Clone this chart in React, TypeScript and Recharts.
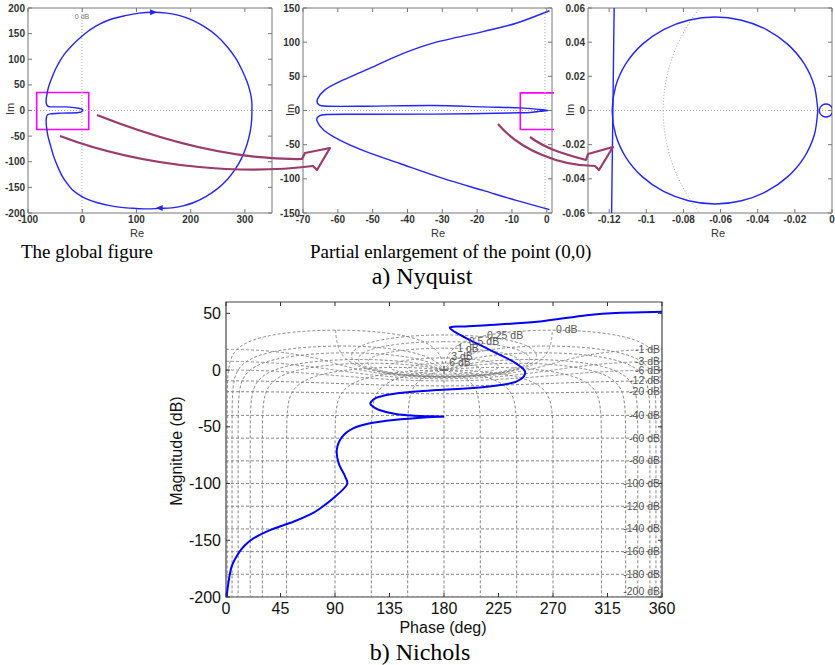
import React from "react";
import { ComposedChart, Line, Scatter, XAxis, YAxis, ReferenceLine, ReferenceArea } from "recharts";

type P = { x: number; y: number };
const pts = (a: number[][]): P[] => a.map(([x, y]) => ({ x, y }));

// ---------- a) Nyquist, the global figure (Re, Im)
const globalLoop = pts([
  [1.5, 0], [0.6, 1.9], [-6.7, 4.5], [-31, 7], [-58.6, 7.1], [-64.5, 9.5], [-66.2, 14], [-66.5, 21.4],
  [-64.5, 35], [-61.7, 47.4], [-56, 64], [-49.5, 80], [-41, 97], [-31, 112.5], [-17, 129], [-0.6, 144.8],
  [14, 157], [30, 167.6], [53, 178], [79, 185], [105, 190], [131, 191.6], [156, 190], [180, 185],
  [204, 176], [226, 163], [248, 146], [267, 125], [283, 102], [295, 78], [304, 56], [310, 35],
  [312.8, 17], [313, 0], [312.5, -18], [310, -40], [304, -66], [294, -93], [282, -115], [268, -134],
  [249, -153], [228, -168], [207, -179], [186, -186], [165, -190], [143, -191], [120, -192], [97, -191],
  [72, -189], [48.5, -185], [28, -180], [8.8, -173], [-5, -165], [-18.7, -154], [-28, -142], [-37, -128],
  [-45, -110], [-52.5, -90], [-58, -70], [-63, -51], [-65.5, -35], [-66.5, -25], [-66.2, -15], [-64.5, -9],
  [-58.6, -6.5], [-37, -5.2], [-6.7, -3.9], [1.5, 0],
]);
const globalArrowHeads = [
  { x: 130.6, y: 191.6, dir: 1 },
  { x: 142.9, y: -190, dir: -1 },
];
const globalBox = [-84, 12, -37, 35];
const globalXTicks = [-100, 0, 100, 200, 300];
const globalYTicks = [-200, -150, -100, -50, 0, 50, 100, 150, 200];

// ---------- partial enlargement
const zoomCurve = pts([
  [0.8, 146], [-8.8, 127.7], [-18.3, 115.5], [-32.7, 98.6], [-42.2, 81.5], [-51.7, 59.7], [-59.3, 42.7],
  [-63.6, 30.6], [-65.8, 17], [-65.5, 8.7], [-63.1, 6.3], [-51.7, 6.3], [-32.7, 7.3], [-18.3, 5.3],
  [-7.7, 3.9], [-2, 1.5], [0.4, 0], [-2, -1.2], [-7.7, -3.4], [-32.7, -5.3], [-51.7, -5.5], [-63.1, -5.8],
  [-65.5, -8.7], [-66, -15], [-64, -29], [-59.3, -43.7], [-51.7, -60.6], [-42.2, -77.6], [-29.8, -99.4],
  [-18.3, -117], [-8.8, -131.6], [0.8, -145],
]);
const zoomBox = [-7.6, 2.4, -27.7, 25.8];
const zoomXTicks = [-70, -60, -50, -40, -30, -20, -10, 0];
const zoomYTicks = [-150, -100, -50, 0, 50, 100, 150];

// ---------- close-up at the origin
const nearCross = pts([[-0.1172, 0.07], [-0.118, 0], [-0.1188, -0.07]]);
const nearLoop = pts([
  [-0.0076, 0], [-0.0095, 0.0142], [-0.015, 0.0274], [-0.0238, 0.0387], [-0.0353, 0.0474], [-0.0487, 0.0528],
  [-0.063, 0.0547], [-0.0773, 0.0528], [-0.0907, 0.0474], [-0.1022, 0.0387], [-0.111, 0.0274], [-0.1165, 0.0142],
  [-0.1184, 0], [-0.1165, -0.0142], [-0.111, -0.0274], [-0.1022, -0.0387], [-0.0907, -0.0474], [-0.0773, -0.0528],
  [-0.063, -0.0547], [-0.0487, -0.0528], [-0.0353, -0.0474], [-0.0238, -0.0387], [-0.015, -0.0274],
  [-0.0095, -0.0142], [-0.0076, 0],
]);
const nearSmallLoop = pts([
  [0.0004, 0], [-0.0001, 0.0019], [-0.0014, 0.0033], [-0.0032, 0.0038], [-0.005, 0.0033], [-0.0063, 0.0019],
  [-0.0068, 0], [-0.0063, -0.0019], [-0.005, -0.0033], [-0.0032, -0.0038], [-0.0014, -0.0033],
  [-0.0001, -0.0019], [0.0004, 0],
]);
const nearXTicks = [-0.12, -0.1, -0.08, -0.06, -0.04, -0.02, 0];
const nearYTicks = [-0.06, -0.04, -0.02, 0, 0.02, 0.04, 0.06];
const nearGridDb = -20;

// ---------- b) Nichols
const nicholsPhase = [0.5, 1.9, 4.7, 10.2, 16, 22.6, 36.3, 55.6, 70, 77.6, 88.6, 99.6, 98.4, 93, 91.5, 95.7, 105, 119, 138.4, 166,
  179, 155, 140, 126, 120, 119.5, 124, 135, 150, 174, 210, 235, 244, 247, 245.5, 240, 235, 225, 215.7, 199,
  190, 185.3, 186, 196, 215.7, 257, 298, 326, 360];
const nicholsMag = [-200, -188, -173, -161.6, -154, -148.3, -141, -133.7, -127, -122, -113, -101.4, -94, -82, -70, -59, -51.3, -46.9, -44, -41.5,
  -41, -40.2, -38.8, -35, -31, -28.5, -24.5, -21.5, -19.5, -17.6, -15.3, -11.7, -7.5, -3, 1, 5.5, 8.8, 14, 19, 27.8,
  33, 36.6, 38, 38.5, 39.6, 42.5, 48.4, 50.5, 51.3];
const nicholsXTicks = [0, 45, 90, 135, 180, 225, 270, 315, 360];
const nicholsYTicks = [-200, -150, -100, -50, 0, 50];

// closed-loop levels of the Nichols grid
const magLevels = [6, 3, 1, 0.5, 0.25, 0, -1, -3, -6, -12, -20, -40, -60, -80, -100, -120, -140, -160, -180, -200];
const phaseLevels = [1, 5, 10, 20, 30, 50, 90, 120, 150, 180];

const innerLabelText = ["0 dB", "0.25 dB", "0.5 dB", "1 dB", "3 dB", "6 dB"];
const innerLabelPhase = [281.3, 230.4, 213, 199.8, 194.9, 193.2];
const innerLabelMag = [35.9, 30.8, 25.6, 19.7, 12.6, 7];
const edgeLabelText = ["-1 dB", "-3 dB", "-6 dB", "-12 dB", "-20 dB", "-40 dB", "-60 dB", "-80 dB", "-100 dB",
  "-120 dB", "-140 dB", "-160 dB", "-180 dB", "-200 dB"];
const edgeLabelMag = [18.5, 8.2, 0, -8.8, -18.2, -39.6, -59.6, -79.2, -99.2, -119.7, -139, -159.3, -179.6, -194.3];

// ---------- grid construction (closed loop T -> open loop G = T / (1 - T))
const RAD = Math.PI / 180;
function openLoop(M: number, aDeg: number) {
  const tr = M * Math.cos(aDeg * RAD);
  const ti = M * Math.sin(aDeg * RAD);
  const dr = 1 - tr;
  const di = -ti;
  const den = dr * dr + di * di;
  return { re: (tr * dr + ti * di) / den, im: (ti * dr - tr * di) / den };
}

function magContour(mdb: number): P[] {
  const M = Math.pow(10, mdb / 20);
  const n = Math.abs(mdb) <= 6 ? 400 : 40;
  const tmin = mdb === 0 ? Math.cbrt(1 / 180) : 1e-3;
  const ts: number[] = [];
  for (let k = 0; k <= n; k++) ts.push(tmin + ((1 - tmin) * k) / n);
  const alphas = [...ts.map((t) => 180 * t * t * t), ...ts.slice().reverse().map((t) => -180 * t * t * t)];
  return alphas.map((a) => {
    const g = openLoop(M, a);
    return { x: ((Math.atan2(g.im, g.re) / RAD) + 360) % 360, y: 20 * Math.log10(Math.hypot(g.re, g.im)) };
  });
}

function phaseContour(theta: number, mirror: boolean): P[] {
  if (theta === 180) return [{ x: 180, y: -210 }, { x: 180, y: 0 }];
  const s = Math.sin(theta * RAD);
  const ds: number[] = [];
  for (let e = -12; e < 0; e += 0.25) ds.push(Math.pow(10, e));
  for (let d = 1; d <= 180 - theta + 1e-9; d += 1) ds.push(d);
  return ds.map((d) => {
    const ph = theta + d;
    const mag = 20 * Math.log10(Math.sin(d * RAD) / s);
    return { x: mirror ? 360 - ph : ph, y: Math.max(mag, -210) };
  });
}

const nicholsGrid: P[][] = [
  ...magLevels.map(magContour),
  ...phaseLevels.map((t) => phaseContour(t, false)),
  ...phaseLevels.filter((t) => t !== 180).map((t) => phaseContour(t, true)),
];
const nearGridCircle: P[] = [];
for (let a = -180; a <= 180; a += 3) {
  const g = openLoop(Math.pow(10, nearGridDb / 20), a);
  nearGridCircle.push({ x: g.re, y: g.im });
}

const nicholsCurve = nicholsPhase.map((x, i) => ({ x, y: nicholsMag[i] }));
const innerLabels = innerLabelText.map((label, i) => ({ x: innerLabelPhase[i], y: innerLabelMag[i], label }));
const edgeLabels = edgeLabelText.map((label, i) => ({ x: 358.4, y: edgeLabelMag[i], label }));

// smooth curve through the read points (Catmull-Rom), works for loops too
function smooth(context: any) {
  let q: number[][] = [];
  return {
    areaStart() {},
    areaEnd() {},
    lineStart() { q = []; },
    point(x: number, y: number) { q.push([x, y]); },
    lineEnd() {
      if (!q.length) return;
      context.moveTo(q[0][0], q[0][1]);
      for (let i = 0; i < q.length - 1; i++) {
        const p0 = q[Math.max(i - 1, 0)];
        const p1 = q[i];
        const p2 = q[i + 1];
        const p3 = q[Math.min(i + 2, q.length - 1)];
        context.bezierCurveTo(
          p1[0] + (p2[0] - p0[0]) / 6, p1[1] + (p2[1] - p0[1]) / 6,
          p2[0] - (p3[0] - p1[0]) / 6, p2[1] - (p3[1] - p1[1]) / 6,
          p2[0], p2[1],
        );
      }
    },
  };
}

// ---------- styles
const BLUE = "#2424ff";
const SANS = "'Liberation Sans', Arial, Helvetica, sans-serif";
const SERIF = "'Liberation Serif', 'Times New Roman', serif";
const nyqTick = { fontSize: 10, fontFamily: SANS, fontWeight: 700, fill: "#333" };
const nicTick = { fontSize: 16, fontFamily: SANS, fill: "#111" };

function innerTicks(id: string, xt: number[], yt: number[], xd: number[], yd: number[], pw: number, ph: number, color: string) {
  const dy = ((yd[1] - yd[0]) * 4) / ph;
  const dx = ((xd[1] - xd[0]) * 4) / pw;
  const out: React.ReactElement[] = [];
  xt.forEach((t, i) => {
    out.push(<ReferenceLine key={`${id}xb${i}`} segment={[{ x: t, y: yd[0] }, { x: t, y: yd[0] + dy }]} stroke={color} ifOverflow="visible" />);
    out.push(<ReferenceLine key={`${id}xt${i}`} segment={[{ x: t, y: yd[1] }, { x: t, y: yd[1] - dy }]} stroke={color} ifOverflow="visible" />);
  });
  yt.forEach((t, i) => {
    out.push(<ReferenceLine key={`${id}yl${i}`} segment={[{ x: xd[0], y: t }, { x: xd[0] + dx, y: t }]} stroke={color} ifOverflow="visible" />);
    out.push(<ReferenceLine key={`${id}yr${i}`} segment={[{ x: xd[1], y: t }, { x: xd[1] - dx, y: t }]} stroke={color} ifOverflow="visible" />);
  });
  return out;
}

const arrowHead = (p: any) => {
  const { cx, cy, payload } = p;
  const d = payload.dir;
  return <path d={`M${cx + 4 * d},${cy} L${cx - 3 * d},${cy - 3} L${cx - 3 * d},${cy + 3} Z`} fill={BLUE} />;
};
const textShape = (anchor: "start" | "middle" | "end") => (p: any) => (
  <text x={p.cx} y={p.cy} textAnchor={anchor} dominantBaseline="central" fontSize={10.5} fontFamily={SANS} fill="#555">
    {p.payload.label}
  </text>
);
const plusShape = (p: any) => (
  <path d={`M${p.cx - 4},${p.cy} H${p.cx + 4} M${p.cx},${p.cy - 4} V${p.cy + 4}`} stroke="#666" strokeWidth={1} />
);

const gDom = [-100, 350];
const gYDom = [-200, 200];
const zDom = [-70, 1.5];
const zYDom = [-150, 150];
const nDom = [-0.1314, 0];
const nYDom = [-0.06, 0.06];
const cDom = [0, 360];
const cYDom = [-200, 60];

export default function App() {
  return (
    <div style={{ position: "absolute", left: 0, top: 0, width: 835, height: 665, background: "#fff" }}>
      {/* global figure */}
      <div style={{ position: "absolute", left: 0, top: 0 }}>
        <ComposedChart width={274} height={243} margin={{ top: 8, right: 2, bottom: 0, left: 0 }}>
          <XAxis type="number" dataKey="x" domain={gDom} ticks={globalXTicks} interval={0} allowDataOverflow
            axisLine={false} tickLine={false} tickSize={0} tickMargin={3} height={30} tick={nyqTick} />
          <YAxis type="number" dataKey="y" domain={gYDom} ticks={globalYTicks} interval={0} allowDataOverflow
            axisLine={false} tickLine={false} tickSize={0} tickMargin={3} width={28} tick={nyqTick} />
          <ReferenceLine y={0} stroke="#aaa" strokeDasharray="1 2" />
          <ReferenceLine x={-0.5} stroke="#aaa" strokeDasharray="1 2" />
          <Line data={globalLoop} dataKey="y" type={smooth as any} dot={false} stroke={BLUE} strokeWidth={1.4} isAnimationActive={false} />
          <Scatter data={globalArrowHeads} dataKey="y" shape={arrowHead} isAnimationActive={false} />
          <ReferenceArea x1={globalBox[0]} x2={globalBox[1]} y1={globalBox[2]} y2={globalBox[3]} fill="none" stroke="#ff00ff" strokeWidth={1.6} ifOverflow="visible" />
          {innerTicks("g", globalXTicks, globalYTicks, gDom, gYDom, 244, 205, "#777")}
          <ReferenceArea x1={gDom[0]} x2={gDom[1]} y1={gYDom[0]} y2={gYDom[1]} fill="none" stroke="#777" strokeWidth={1} ifOverflow="visible" />
        </ComposedChart>
      </div>

      {/* partial enlargement */}
      <div style={{ position: "absolute", left: 273, top: 0 }}>
        <ComposedChart width={281} height={243} margin={{ top: 8, right: 2, bottom: 0, left: 0 }}>
          <XAxis type="number" dataKey="x" domain={zDom} ticks={zoomXTicks} interval={0} allowDataOverflow
            axisLine={false} tickLine={false} tickSize={0} tickMargin={3} height={30} tick={nyqTick} />
          <YAxis type="number" dataKey="y" domain={zYDom} ticks={zoomYTicks} interval={0} allowDataOverflow
            axisLine={false} tickLine={false} tickSize={0} tickMargin={3} width={30} tick={nyqTick} />
          <ReferenceLine y={0} stroke="#aaa" strokeDasharray="1 2" />
          <ReferenceLine x={-0.5} stroke="#aaa" strokeDasharray="1 2" />
          <Line data={zoomCurve} dataKey="y" type={smooth as any} dot={false} stroke={BLUE} strokeWidth={1.4} isAnimationActive={false} />
          <ReferenceArea x1={zoomBox[0]} x2={zoomBox[1]} y1={zoomBox[2]} y2={zoomBox[3]} fill="none" stroke="#ff00ff" strokeWidth={1.6} ifOverflow="visible" />
          {innerTicks("z", zoomXTicks, zoomYTicks, zDom, zYDom, 249, 205, "#777")}
          <ReferenceArea x1={zDom[0]} x2={zDom[1]} y1={zYDom[0]} y2={zYDom[1]} fill="none" stroke="#777" strokeWidth={1} ifOverflow="visible" />
        </ComposedChart>
      </div>

      {/* close-up at the origin */}
      <div style={{ position: "absolute", left: 552, top: 0 }}>
        <ComposedChart width={283} height={243} margin={{ top: 8, right: 3, bottom: 0, left: 0 }}>
          <XAxis type="number" dataKey="x" domain={nDom} ticks={nearXTicks} interval={0} allowDataOverflow
            axisLine={false} tickLine={false} tickSize={0} tickMargin={3} height={30} tick={nyqTick} />
          <YAxis type="number" dataKey="y" domain={nYDom} ticks={nearYTicks} interval={0} allowDataOverflow
            axisLine={false} tickLine={false} tickSize={0} tickMargin={3} width={36} tick={nyqTick} />
          <ReferenceLine y={0} stroke="#aaa" strokeDasharray="1 2" />
          <Line data={nearGridCircle} dataKey="y" type="linear" dot={false} stroke="#aaa" strokeDasharray="1 2" strokeWidth={1} isAnimationActive={false} />
          <Line data={nearCross} dataKey="y" type="linear" dot={false} stroke={BLUE} strokeWidth={1.4} isAnimationActive={false} />
          <Line data={nearLoop} dataKey="y" type={smooth as any} dot={false} stroke={BLUE} strokeWidth={1.4} isAnimationActive={false} />
          <Line data={nearSmallLoop} dataKey="y" type={smooth as any} dot={false} stroke={BLUE} strokeWidth={1.4} isAnimationActive={false} />
          {innerTicks("n", nearXTicks, nearYTicks, nDom, nYDom, 244, 205, "#777")}
          <ReferenceArea x1={nDom[0]} x2={nDom[1]} y1={nYDom[0]} y2={nYDom[1]} fill="none" stroke="#777" strokeWidth={1} ifOverflow="visible" />
        </ComposedChart>
      </div>

      {/* Nichols */}
      <div style={{ position: "absolute", left: 186, top: 294 }}>
        <ComposedChart width={500} height={331} margin={{ top: 8, right: 24, bottom: 0, left: 0 }}>
          <XAxis type="number" dataKey="x" domain={cDom} ticks={nicholsXTicks} interval={0} allowDataOverflow
            axisLine={false} tickLine={false} tickSize={0} tickMargin={6} height={28} tick={nicTick} />
          <YAxis type="number" dataKey="y" domain={cYDom} ticks={nicholsYTicks} interval={0} allowDataOverflow
            axisLine={false} tickLine={false} tickSize={0} tickMargin={5} width={40} tick={nicTick} />
          {nicholsGrid.map((c, i) => (
            <Line key={`ng${i}`} data={c} dataKey="y" type="linear" dot={false} stroke="#777" strokeWidth={0.9}
              strokeDasharray="3 2" isAnimationActive={false} />
          ))}
          <Scatter data={[{ x: 180, y: 0 }]} dataKey="y" shape={plusShape} isAnimationActive={false} />
          <Scatter data={innerLabels} dataKey="y" shape={textShape("middle")} isAnimationActive={false} />
          <Scatter data={edgeLabels} dataKey="y" shape={textShape("end")} isAnimationActive={false} />
          <Line data={nicholsCurve} dataKey="y" type={smooth as any} dot={false} stroke="#0000ff" strokeWidth={2} isAnimationActive={false} />
          {innerTicks("c", nicholsXTicks, nicholsYTicks, cDom, cYDom, 436, 295, "#333")}
          <ReferenceArea x1={cDom[0]} x2={cDom[1]} y1={cYDom[0]} y2={cYDom[1]} fill="none" stroke="#444" strokeWidth={1.2} ifOverflow="visible" />
        </ComposedChart>
      </div>

      {/* titles, axis names, arrows */}
      <svg width={835} height={665} style={{ position: "absolute", left: 0, top: 0, pointerEvents: "none" }}>
        <text x={82} y={19} textAnchor="middle" fontSize={7} fontFamily={SANS} fill="#777">0 dB</text>
        <text x={137} y={237} textAnchor="middle" fontSize={11} fontFamily={SANS} fill="#333">Re</text>
        <text x={438} y={237} textAnchor="middle" fontSize={11} fontFamily={SANS} fill="#333">Re</text>
        <text x={718} y={237} textAnchor="middle" fontSize={11} fontFamily={SANS} fill="#333">Re</text>
        <text transform="translate(14,109) rotate(-90)" textAnchor="middle" fontSize={11} fontFamily={SANS} fill="#333">Im</text>
        <text transform="translate(294,110) rotate(-90)" textAnchor="middle" fontSize={11} fontFamily={SANS} fill="#333">Im</text>
        <text transform="translate(574,110) rotate(-90)" textAnchor="middle" fontSize={11} fontFamily={SANS} fill="#333">Im</text>

        <path d="M97 115 C160 140, 230 160, 302 159 L305 153 L330 148 L317 170 L313 166 C250 174, 150 170, 60 136"
          fill="none" stroke="#9b3a6c" strokeWidth={2.2} strokeLinejoin="round" />
        <path d="M530 137 C545 148, 560 153, 586 160 L588 154 L613 147 L599 170 L595 166 C560 166, 520 150, 498 124"
          fill="none" stroke="#9b3a6c" strokeWidth={2.2} strokeLinejoin="round" />

        <text x={21} y={258} fontSize={19} fontFamily={SERIF} fill="#000">The global figure</text>
        <text x={310} y={258} fontSize={19} fontFamily={SERIF} fill="#000">Partial enlargement of the point (0,0)</text>
        <text x={422} y={284} textAnchor="middle" fontSize={24} fontFamily={SERIF} fill="#000">a) Nyquist</text>

        <text transform="translate(182,451) rotate(-90)" textAnchor="middle" fontSize={16} fontFamily={SANS} fill="#111">Magnitude (dB)</text>
        <text x={443} y={633} textAnchor="middle" fontSize={16} fontFamily={SANS} fill="#111">Phase (deg)</text>
        <text x={420} y={660} textAnchor="middle" fontSize={24} fontFamily={SERIF} fill="#000">b) Nichols</text>
      </svg>
    </div>
  );
}
